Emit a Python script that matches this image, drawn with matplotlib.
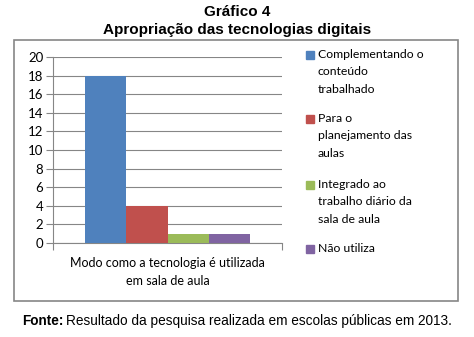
import matplotlib
matplotlib.use("Agg")
import matplotlib.pyplot as plt
from matplotlib.patches import Rectangle

series = ["Complementando o\nconteúdo\ntrabalhado",
          "Para o\nplanejamento das\naulas",
          "Integrado ao\ntrabalho diário da\nsala de aula",
          "Não utiliza"]
values = [18, 4, 1, 1]
colors = ["#4F81BD", "#C0504D", "#9BBB59", "#8064A2"]
category = "Modo como a tecnologia é utilizada\nem sala de aula"
yticks = list(range(0, 21, 2))

fig = plt.figure(figsize=(4.74, 3.37), dpi=100)

# outer chart frame
fig.patches.append(Rectangle((14 / 474, 1 - 301 / 337), 444 / 474, 261 / 337,
                             transform=fig.transFigure, fill=False,
                             edgecolor="#868686", linewidth=1.2))

fig.text(0.5, 1 - 12 / 337, "Gráfico 4", ha="center", va="center",
         fontsize=11, fontweight="bold", family="Liberation Sans")
fig.text(0.5, 1 - 30 / 337, "Apropriação das tecnologias digitais", ha="center",
         va="center", fontsize=11, fontweight="bold", family="Liberation Sans")

# source line: bold label then regular text right after it
src = fig.text(22 / 474, 1 - 321 / 337, "Fonte:", va="center", fontsize=9.8,
               fontweight="bold", family="Liberation Sans")
fig.canvas.draw()
bb = src.get_window_extent(fig.canvas.get_renderer())
fig.text(bb.x1 / fig.bbox.width + 3 / 474, 1 - 321 / 337,
         "Resultado da pesquisa realizada em escolas públicas em 2013.",
         va="center", fontsize=9.8, family="Liberation Sans")

ax = fig.add_axes([53 / 474, 1 - 243 / 337, 229 / 474, 186 / 337])
w = 0.18
offs = [-1.5 * w, -0.5 * w, 0.5 * w, 1.5 * w]
for o, v, c in zip(offs, values, colors):
    ax.bar(o, v, width=w, color=c, zorder=3)
ax.set_xlim(-0.5, 0.5)
ax.set_ylim(0, 20)
ax.set_yticks(yticks)
ax.yaxis.grid(True, color="#868686", linewidth=0.8)
ax.set_xticks([-0.5, 0.5])
ax.set_xticklabels(["", ""])
ax.tick_params(axis="y", length=5, color="#868686", labelsize=9.5, pad=2)
ax.tick_params(axis="x", length=5, color="#868686", direction="out")
for s in ["top", "right"]:
    ax.spines[s].set_visible(False)
for s in ["left", "bottom"]:
    ax.spines[s].set_color("#868686")
for lab in ax.get_yticklabels():
    lab.set_family("Lato")
ax.text(0, -1.5, category, ha="center", va="top", fontsize=9, family="Lato",
        linespacing=1.6, transform=ax.transData)

# legend drawn by hand so the marker sits on the first line
ys = [55, 119, 185, 249]
for lab, c, y in zip(series, colors, ys):
    fig.patches.append(Rectangle((306 / 474, 1 - (y + 4) / 337), 8 / 474, 8 / 337,
                                 transform=fig.transFigure, color=c))
    fig.text(318 / 474, 1 - (y - 6) / 337, lab, va="top", ha="left", fontsize=8.8,
             family="Lato", linespacing=1.7)

fig.savefig("out.png", dpi=100)
